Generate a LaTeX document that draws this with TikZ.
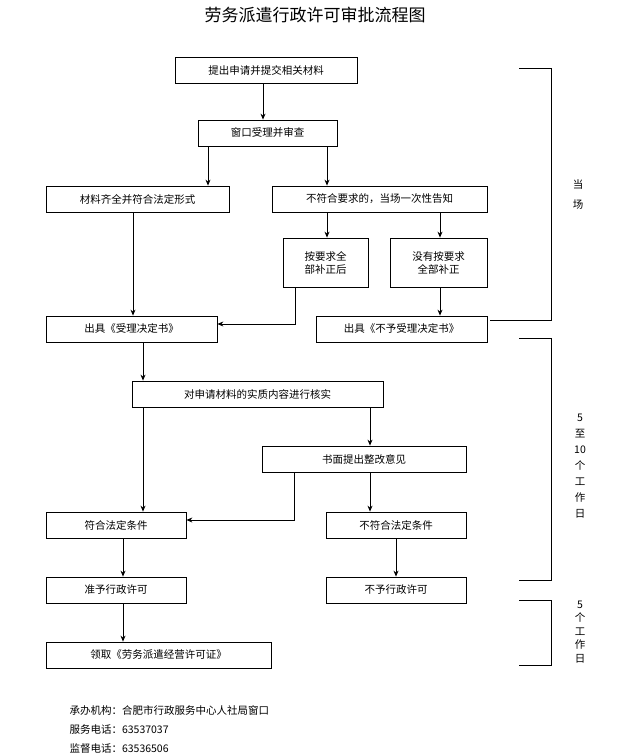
\documentclass[tikz,border=0pt]{standalone}
\usepackage{fontspec}
\setmainfont{Noto Sans CJK SC}
\usetikzlibrary{arrows.meta}
\begin{document}
\begin{tikzpicture}[x=1pt,y=-1pt,
  bx/.style={draw,thick,inner sep=0pt,font=\fontsize{10.5}{13}\selectfont,align=center},
  ar/.style={-{Stealth[length=6pt,width=5pt]},thick},
  ln/.style={thick}]
\useasboundingbox (0,0) rectangle (642,755);
\node[font=\fontsize{17}{20}\selectfont] (t) at (315,15) {劳务派遣行政许可审批流程图};
\newcommand\bxn[6]{\node[bx,minimum width=#4-#2,minimum height=#5-#3] (#1) at ({(#2+#4)/2},{(#3+#5)/2}) {#6};}
\bxn{a}{175}{57}{357}{83}{提出申请并提交相关材料}
\bxn{b}{198}{120}{337}{146}{窗口受理并审查}
\bxn{c}{46}{186}{229}{212}{材料齐全并符合法定形式}
\bxn{d}{272}{186}{487}{212}{不符合要求的，当场一次性告知}
\bxn{e}{283}{238}{368}{287}{按要求全\\部补正后}
\bxn{f}{390}{238}{487}{287}{没有按要求\\全部补正}
\bxn{g}{46}{316}{217}{342}{出具《受理决定书》}
\bxn{h}{316}{316}{487}{342}{出具《不予受理决定书》}
\bxn{i}{132}{381}{383}{407}{对申请材料的实质内容进行核实}
\bxn{j}{262}{446}{466}{472}{书面提出整改意见}
\bxn{k}{46}{512}{186}{538}{符合法定条件}
\bxn{l}{326}{512}{466}{538}{不符合法定条件}
\bxn{m}{46}{577}{186}{603}{准予行政许可}
\bxn{n}{326}{577}{466}{603}{不予行政许可}
\bxn{o}{46}{642}{271}{668}{领取《劳务派遣经营许可证》}
\draw[ar] (a.south -| 263,0) -- (b.north -| 263,0);
\draw[ar] (b.south -| 208,0) -- (c.north -| 208,0);
\draw[ar] (b.south -| 327,0) -- (d.north -| 327,0);
\draw[ar] (c.south -| 133,0) -- (g.north -| 133,0);
\draw[ar] (d.south -| 327,0) -- (e.north -| 327,0);
\draw[ar] (d.south -| 440,0) -- (f.north -| 440,0);
\draw[ar] (e.south -| 295,0) |- (g.east |- 0,324);
\draw[ar] (f.south -| 440,0) -- (h.north -| 440,0);
\draw[ar] (g.south -| 143,0) -- (i.north -| 143,0);
\draw[ar] (i.south -| 143,0) -- (k.north -| 143,0);
\draw[ar] (i.south -| 370,0) -- (j.north -| 370,0);
\draw[ar] (j.south -| 294,0) |- (k.east |- 0,520);
\draw[ar] (j.south -| 370,0) -- (l.north -| 370,0);
\draw[ar] (k.south -| 123,0) -- (m.north -| 123,0);
\draw[ar] (m.south -| 123,0) -- (o.north -| 123,0);
\draw[ar] (l.south -| 396,0) -- (n.north -| 396,0);
\coordinate (p1) at (519,68); \coordinate (p2) at (490,320);
\draw[ln] (p1) -| (551,320) -- (p2);
\coordinate (q1) at (519,338); \coordinate (q2) at (519,580);
\draw[ln] (q1) -| (551,580) -- (q2);
\coordinate (r1) at (519,600); \coordinate (r2) at (519,665);
\draw[ln] (r1) -| (551,665) -- (r2);
\node[font=\fontsize{10.5}{20}\selectfont,align=center] (s1) at (578,195) {当\\场};
\node[font=\fontsize{10.5}{16}\selectfont,align=center] (s2) at (580,466) {5\\至\\10\\个\\工\\作\\日};
\node[font=\fontsize{10.5}{13.5}\selectfont,align=center] (s3) at (580,632) {5\\个\\工\\作\\日};
\node[font=\fontsize{10.5}{19}\selectfont,align=left,anchor=north west] (info) at (66,702) {承办机构：合肥市行政服务中心人社局窗口\\服务电话：63537037\\监督电话：63536506};
\end{tikzpicture}
\end{document}
